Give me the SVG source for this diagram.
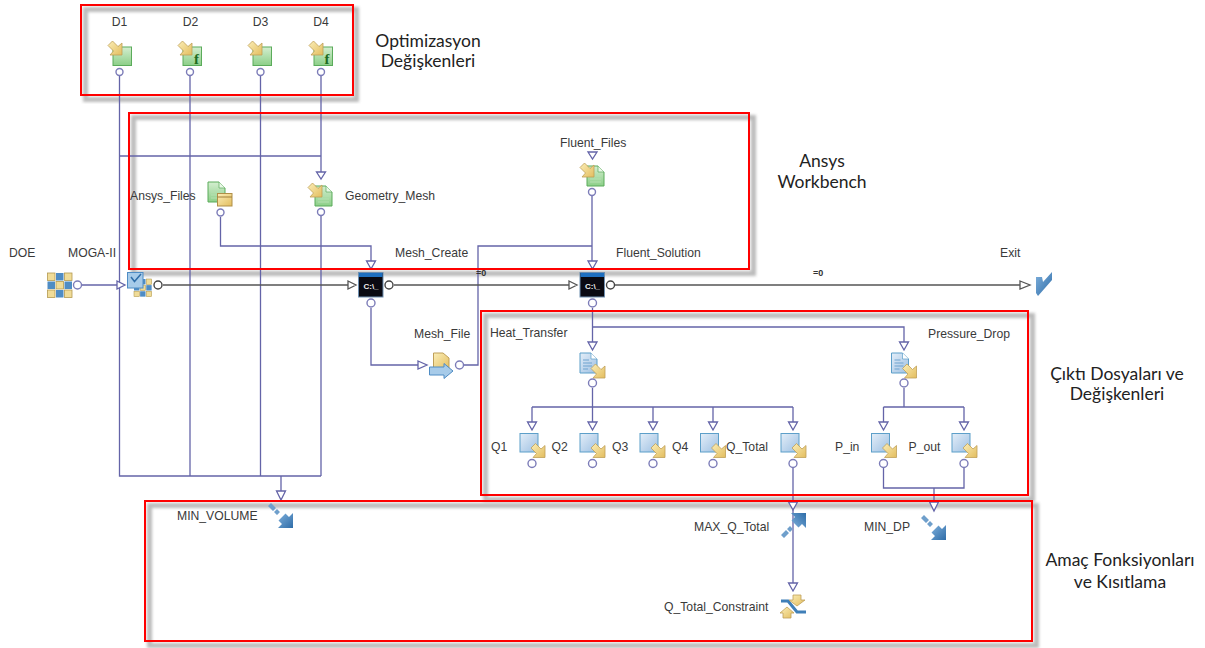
<svg xmlns="http://www.w3.org/2000/svg" width="1205" height="648" viewBox="0 0 1205 648">
<style>
text{font-family:"Liberation Sans",Arial,sans-serif}
.l{font-size:12.200px;fill:#3a3a3a}
.a{font-family:Lato,"Noto Sans","Liberation Sans",sans-serif;font-size:17.500px;fill:#222;text-anchor:middle}
.c{fill:none;stroke:#6464a8;stroke-width:1.300}
.k{fill:none;stroke:#555;stroke-width:1.300}
.o{fill:#fff;stroke:#7c7cb8;stroke-width:1.400}
.ok{fill:#fff;stroke:#444;stroke-width:1.400}
.t{fill:#fff;stroke:#6464a8;stroke-width:1.300}
.tk{fill:#fff;stroke:#555;stroke-width:1.300}
.red{fill:none;stroke:#f00;stroke-width:2}
.sh{fill:none;stroke:#bbb;stroke-width:5;filter:url(#bl)}
.z{font-size:9px;font-weight:bold;fill:#333}
.f{font-size:15px;font-weight:bold;fill:#1f6b1f;text-anchor:middle;font-family:"Liberation Serif",serif}
.cm{font-size:8px;font-weight:bold;fill:#eee;text-anchor:middle}
</style>
<defs>
<filter id="bl" x="-5%" y="-5%" width="110%" height="110%"><feGaussianBlur stdDeviation="1.600"/></filter>
<linearGradient id="gg" x1="0" y1="0" x2="0" y2="1"><stop offset="0" stop-color="#d4eed0"/><stop offset="1" stop-color="#8ccf88"/></linearGradient>
<linearGradient id="gb" x1="0" y1="0" x2="1" y2="1"><stop offset="0" stop-color="#e4eef8"/><stop offset="1" stop-color="#9cbfe2"/></linearGradient>
<linearGradient id="gy" x1="0" y1="0" x2="1" y2="1"><stop offset="0" stop-color="#fbeeb8"/><stop offset="1" stop-color="#e3bd5e"/></linearGradient>
<linearGradient id="gd" x1="0" y1="0" x2="1" y2="1"><stop offset="0" stop-color="#7fb0dc"/><stop offset="1" stop-color="#2f6da8"/></linearGradient>
<path id="ya" d="M0 4.500 4.500 0 10 5.500 14 2V14H2L5.500 10Z" fill="url(#gy)" stroke="#bf9f58" stroke-width=".8"/>
<g id="var"><rect x="5" y="6" width="18.500" height="18.500" fill="url(#gg)" stroke="#5bab5b"/><use href="#ya"/></g>
<g id="out"><rect x="0" y="0" width="18" height="18.500" fill="url(#gb)" stroke="#5d9fc9"/><use href="#ya" x="11" y="10"/></g>
<g id="bdoc"><path d="M0 0H11L17 6V20H0Z" fill="url(#gb)" stroke="#5d9fc9"/><path d="M11 0V6H17" fill="#fff" stroke="#5d9fc9" stroke-width=".7"/><path d="M3 7H9M3 10H12M3 13H12M3 16H8" stroke="#6fa3cf"/><use href="#ya" x="11" y="11"/></g>
<g id="gdoc"><path d="M0 0H11L17 6V20H0Z" fill="url(#gg)" stroke="#5bab5b"/><path d="M11 0V6H17" fill="#e9f7e6" stroke="#5bab5b" stroke-width=".7"/><path d="M3 10H14M3 13H14M3 16H14" stroke="#b5e0b0"/></g>
<g id="cmd"><rect x="0" y="0" width="24.500" height="24.500" fill="#0a0a12" stroke="#6f8fb0"/><rect x="0.500" y="0.500" width="23.500" height="4" fill="#1e6fc0"/></g>
<g id="grid">
<rect x="0" y="0" width="7.500" height="7.500" fill="#f0dc98" stroke="#b39a50" stroke-width=".8"/><rect x="8.500" y="0" width="7.500" height="7.500" fill="#4f8cc4"/><rect x="17" y="0" width="7.500" height="7.500" fill="#f0dc98" stroke="#b39a50" stroke-width=".8"/>
<rect x="0" y="8.500" width="7.500" height="7.500" fill="#4f8cc4"/><rect x="8.500" y="8.500" width="7.500" height="7.500" fill="#f0dc98" stroke="#b39a50" stroke-width=".8"/><rect x="17" y="8.500" width="7.500" height="7.500" fill="#4f8cc4"/>
<rect x="0" y="17" width="7.500" height="7.500" fill="#f0dc98" stroke="#b39a50" stroke-width=".8"/><rect x="8.500" y="17" width="7.500" height="7.500" fill="#4f8cc4"/><rect x="17" y="17" width="7.500" height="7.500" fill="#f0dc98" stroke="#b39a50" stroke-width=".8"/>
</g>
<g id="minI"><path d="M0 3 3 0 8 5 5 8ZM6 9 9 6 12 9 9 12Z" fill="#6f9fcb"/><path d="M25 25H10L14 21 10.500 17.500 17.500 10.500 21 14 25 10Z" fill="url(#gd)"/></g>
</defs>
<rect width="1205" height="648" fill="#fff"/>

<g id="shadows">
<rect class="sh" x="85.500" y="9.500" width="271" height="90"/>
<rect class="sh" x="133.500" y="117.500" width="620" height="156"/>
<rect class="sh" x="485.500" y="315.500" width="547" height="184"/>
<rect class="sh" x="149.500" y="505.500" width="887" height="140"/>
</g>

<g id="connectors">
<path class="c" d="M119.500 76V476H321M190 76V476M260.500 76V476M321 76V172M119.500 156H321M321 216V476M281 476V491"/>
<path class="c" d="M82 285H117"/>
<path class="c" d="M220.500 217V246H371V262M592 196V262M371 308V365H418M464 365H478V246H592"/>
<path class="c" d="M592.500 308V342M592.500 327H904V342M592.500 388V422M532 407H793M532 407V422M653 407V422M713 407V422M793 407V422M904 388V407M883.500 407H964M883.500 407V422M964 407V422M793 468V502M793 510V583M883.500 468V488H964V468M934 488V502"/>
<path class="k" d="M163 285H348M394 285H569M615 285H1020"/>
<g id="arrowheads">
<path class="t" d="M117 281 125 285 117 289Z"/>
<path class="tk" d="M348 281 356 285 348 289ZM569 281 577 285 569 289ZM1020 281 1030 285 1020 289Z"/>
<path class="t" d="M316.500 172H325.500L321 179Z"/>
<path class="t" d="M588 152H597L592.500 159Z"/>
<path class="t" d="M366.500 261H375.500L371 269ZM588 261H597L592.500 269Z"/>
<path class="t" d="M418 361 427 365 418 369Z"/>
<path class="t" d="M588 342H597L592.500 350ZM899.500 342H908.500L904 350Z"/>
<path class="t" d="M527.500 422H536.500L532 430ZM588 422H597L592.500 430ZM648.500 422H657.500L653 430ZM708.500 422H717.500L713 430ZM788.500 422H797.500L793 430ZM879 422H888L883.500 430ZM959.500 422H968.500L964 430Z"/>
<path class="t" d="M276.500 491H285.500L281 500ZM929.500 502H938.500L934 511ZM788.500 502H797.500L793 510ZM788.500 583H797.500L793 591Z"/>
</g>
</g>

<g id="D1"><use href="#var" x="108" y="41"/><circle class="o" cx="119.500" cy="72" r="3.500"/><text class="l" x="119.500" y="26" text-anchor="middle">D1</text></g>
<g id="D2"><use href="#var" x="178" y="41"/><text class="f" x="196.500" y="64">f</text><circle class="o" cx="190" cy="72" r="3.500"/><text class="l" x="190.500" y="26" text-anchor="middle">D2</text></g>
<g id="D3"><use href="#var" x="248" y="41"/><circle class="o" cx="260.500" cy="72" r="3.500"/><text class="l" x="260.500" y="26" text-anchor="middle">D3</text></g>
<g id="D4"><use href="#var" x="309" y="41"/><text class="f" x="327" y="64">f</text><circle class="o" cx="321" cy="72" r="3.500"/><text class="l" x="321" y="26" text-anchor="middle">D4</text></g>

<g id="Ansys_Files"><use href="#gdoc" x="208" y="182"/><rect x="217.500" y="193.500" width="14.500" height="12.500" fill="url(#gy)" stroke="#b08f48"/><path d="M217.500 197H232" stroke="#a07f38"/><circle class="o" cx="220.500" cy="212.500" r="3.500"/><text class="l" x="130" y="200">Ansys_Files</text></g>
<g id="Geometry_Mesh"><use href="#gdoc" x="315" y="186"/><use href="#ya" x="308" y="183"/><circle class="o" cx="321" cy="212" r="3.500"/><text class="l" x="345" y="200">Geometry_Mesh</text></g>
<g id="Fluent_Files"><use href="#gdoc" x="587" y="166"/><use href="#ya" x="580" y="163"/><circle class="o" cx="592" cy="192" r="3.500"/><text class="l" x="560" y="147">Fluent_Files</text></g>

<g id="DOE"><use href="#grid" x="47.500" y="273"/><circle class="o" cx="77.500" cy="285" r="4"/><text class="l" x="9" y="257">DOE</text></g>
<g id="MOGA-II"><g transform="translate(134 279) scale(.72)"><use href="#grid"/></g><rect x="127.500" y="272.500" width="15.500" height="15.500" fill="#a7cbe9" stroke="#4f8cc4"/><path d="M131 277 134.500 281.500 141 274" fill="none" stroke="#2f6da8" stroke-width="1.500"/><circle class="ok" cx="158" cy="285" r="4"/><text class="l" x="68" y="257">MOGA-II</text></g>

<g id="Mesh_Create"><use href="#cmd" x="358.500" y="272.500"/><text class="cm" x="371" y="289">C:\_</text><circle class="ok" cx="389" cy="285" r="4"/><circle class="o" cx="371" cy="303" r="4"/><text class="l" x="395" y="257">Mesh_Create</text></g>
<g id="Fluent_Solution"><use href="#cmd" x="580" y="272.500"/><text class="cm" x="592.500" y="289">C:\_</text><circle class="ok" cx="610.500" cy="285" r="4"/><circle class="o" cx="592.500" cy="303" r="4"/><text class="l" x="616" y="257">Fluent_Solution</text></g>
<g id="Exit"><path d="M1036 277H1042L1043 282 1052 272V280L1038 296 1036 293Z" fill="url(#gd)"/><text class="l" x="1000" y="257">Exit</text></g>
<text class="z" x="476" y="276">=0</text>
<text class="z" x="813" y="276">=0</text>

<g id="Mesh_File"><path d="M433.500 353H443L449 358V370H433.500Z" fill="url(#gy)" stroke="#bf9f58"/><path d="M429.500 367H444V363.500L453 371 444 378.500V375H429.500Z" fill="#a7cbe9" stroke="#4f8cc4"/><circle class="o" cx="459.500" cy="365" r="4"/><text class="l" x="414" y="338">Mesh_File</text></g>

<g id="Heat_Transfer"><use href="#bdoc" x="580" y="353"/><circle class="o" cx="592.500" cy="383" r="4"/><text class="l" x="490" y="337">Heat_Transfer</text></g>
<g id="Pressure_Drop"><use href="#bdoc" x="891.500" y="353"/><circle class="o" cx="904" cy="383" r="4"/><text class="l" x="928" y="338">Pressure_Drop</text></g>
<g id="Q1"><use href="#out" x="520" y="433.500"/><circle class="o" cx="532" cy="463.500" r="4"/><text class="l" x="491" y="451">Q1</text></g>
<g id="Q2"><use href="#out" x="580" y="433.500"/><circle class="o" cx="592.500" cy="463.500" r="4"/><text class="l" x="551.500" y="451">Q2</text></g>
<g id="Q3"><use href="#out" x="640" y="433.500"/><circle class="o" cx="653" cy="463.500" r="4"/><text class="l" x="612" y="451">Q3</text></g>
<g id="Q4"><use href="#out" x="700.500" y="433.500"/><circle class="o" cx="713" cy="463.500" r="4"/><text class="l" x="672" y="451">Q4</text></g>
<g id="Q_Total"><use href="#out" x="781" y="433.500"/><circle class="o" cx="793" cy="463.500" r="4"/><text class="l" x="726" y="451">Q_Total</text></g>
<g id="P_in"><use href="#out" x="871.500" y="433.500"/><circle class="o" cx="883.500" cy="463.500" r="4"/><text class="l" x="835" y="451">P_in</text></g>
<g id="P_out"><use href="#out" x="952" y="433.500"/><circle class="o" cx="964" cy="463.500" r="4"/><text class="l" x="908.500" y="451">P_out</text></g>

<g id="MIN_VOLUME"><use href="#minI" x="268" y="503"/><text class="l" x="177" y="520">MIN_VOLUME</text></g>
<g id="MIN_DP"><use href="#minI" x="921" y="515"/><text class="l" x="864" y="531">MIN_DP</text></g>
<g id="MAX_Q_Total"><g transform="translate(781 538) scale(1 -1)"><use href="#minI"/></g><text class="l" x="694" y="531">MAX_Q_Total</text></g>
<g id="Q_Total_Constraint"><path d="M781 601H788L797 612H806" fill="none" stroke="#3f7fb8" stroke-width="3"/><path d="M793 595H801V600H805L797 606 789 600H793Z" fill="url(#gy)" stroke="#bf9f58" stroke-width=".8"/><path d="M787 607 794 613H791V618H783V613H780Z" fill="url(#gy)" stroke="#bf9f58" stroke-width=".8"/><text class="l" x="664" y="611">Q_Total_Constraint</text></g>

<g id="regions">
<rect class="red" x="81" y="5" width="272" height="90"/>
<rect class="red" x="129" y="113" width="620" height="156"/>
<rect class="red" x="481" y="311" width="547" height="184"/>
<rect class="red" x="145" y="501" width="887" height="140"/>
<text class="a" x="428" y="47">Optimizasyon</text><text class="a" x="428" y="67">Değişkenleri</text>
<text class="a" x="822" y="167">Ansys</text><text class="a" x="822" y="188">Workbench</text>
<text class="a" x="1117" y="380">Çıktı Dosyaları ve</text><text class="a" x="1117" y="400">Değişkenleri</text>
<text class="a" x="1120" y="566">Amaç Fonksiyonları</text><text class="a" x="1120" y="588">ve Kısıtlama</text>
</g>
</svg>
